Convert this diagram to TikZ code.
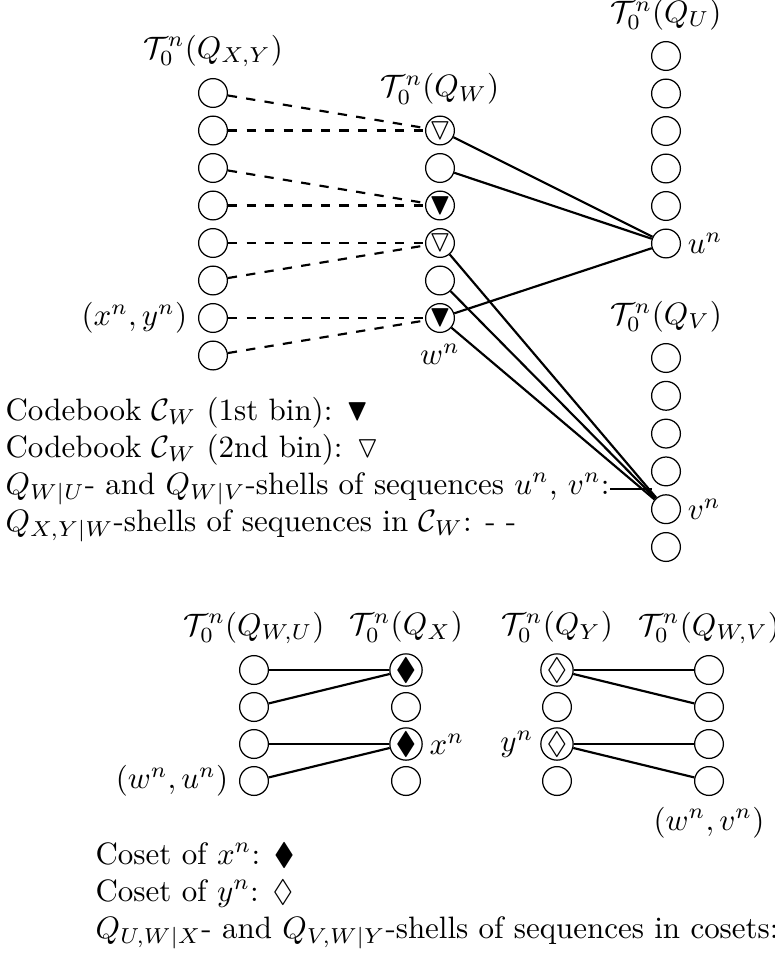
\documentclass[tikz,border=0pt]{standalone}
\usepackage{amsmath}
\usepackage{amssymb}
\usepackage{tikz}

\begin{document}
\begin{tikzpicture}[x=0.323pt, y=-0.323pt,
    bola/.style={draw, circle, thin, minimum size=9.3pt, inner sep=0pt},
    liga/.style={line width=0.7pt},
    ligad/.style={line width=0.7pt, dashed},
    legenda/.style={anchor=base west, inner sep=0pt}]
    \useasboundingbox (0,0) rectangle (774,954);
    % colunas de cima
    \foreach \i in {1,...,8}
      \node[bola] (xy\i) at (213,{93+37.5*(\i-1)}) {};
    \foreach \i/\s in {1/$\triangledown$, 2/, 3/$\blacktriangledown$, 4/$\triangledown$, 5/, 6/$\blacktriangledown$}
      \node[bola] (w\i) at (440,{130.5+37.5*(\i-1)}) {\s};
    \foreach \i in {1,...,6}
      \node[bola] (u\i) at (666,{56+37.5*(\i-1)}) {};
    \foreach \i in {1,...,6}
      \node[bola] (v\i) at (666,{358+37.8*(\i-1)}) {};
    % titulos e rotulos
    \node[above] (txy) at (xy1.north) {$\mathcal{T}_0^n(Q_{X,Y})$};
    \node[above] (tw) at (w1.north) {$\mathcal{T}_0^n(Q_W)$};
    \node[above] (tu) at (u1.north) {$\mathcal{T}_0^n(Q_U)$};
    \node[above] (tv) at (v1.north) {$\mathcal{T}_0^n(Q_V)$};
    \node[left] (lxy) at (xy7.west) {$(x^n,y^n)$};
    \node[below] (lw) at (w6.south) {$w^n$};
    \node[right, inner sep=2pt] (lu) at (u6.east) {$u^n$};
    \node[right, inner sep=2pt] (lv) at (v5.east) {$v^n$};
    % cascas tracejadas e cheias
    \foreach \a/\b in {1/1,2/1,3/3,4/3,5/4,6/4,7/6,8/6}
      \draw[ligad] (xy\a) -- (w\b);
    \foreach \b in {1,2,6}
      \draw[liga] (w\b) -- (u6);
    \foreach \b in {4,5,6}
      \draw[liga] (w\b) -- (v5);
    % legenda de cima
    \node[legenda] (leg1) at (5,420) {Codebook $\mathcal{C}_W$ (1st bin): $\blacktriangledown$};
    \node[legenda] (leg2) at (5,457) {Codebook $\mathcal{C}_W$ (2nd bin): $\triangledown$};
    \node[legenda] (leg3) at (5,494) {$Q_{W|U}$- and $Q_{W|V}$-shells of sequences $u^n$, $v^n$:~};
    \node[legenda] (leg4) at (5,531) {$Q_{X,Y|W}$-shells of sequences in $\mathcal{C}_W$: - -};
    \coordinate (fim3) at (652,489);
    \draw[thin] (leg3.east |- fim3) -- (fim3);
    % colunas de baixo
    \foreach \i in {1,...,4}
      \node[bola] (wu\i) at (254,{670+37*(\i-1)}) {};
    \foreach \i/\s in {1/$\blacklozenge$, 2/, 3/$\blacklozenge$, 4/}
      \node[bola] (x\i) at (406,{670+37*(\i-1)}) {\s};
    \foreach \i/\s in {1/$\lozenge$, 2/, 3/$\lozenge$, 4/}
      \node[bola] (y\i) at (557,{670+37*(\i-1)}) {\s};
    \foreach \i in {1,...,4}
      \node[bola] (wv\i) at (709,{670+37*(\i-1)}) {};
    \node[above] (twu) at (wu1.north) {$\mathcal{T}_0^n(Q_{W,U})$};
    \node[above] (tx) at (x1.north) {$\mathcal{T}_0^n(Q_X)$};
    \node[above] (ty) at (y1.north) {$\mathcal{T}_0^n(Q_Y)$};
    \node[above] (twv) at (wv1.north) {$\mathcal{T}_0^n(Q_{W,V})$};
    \node[left] (lwu) at (wu4.west) {$(w^n,u^n)$};
    \node[right, inner sep=2pt] (lx) at (x3.east) {$x^n$};
    \node[left, inner sep=2pt] (ly) at (y3.west) {$y^n$};
    \node[below] (lwv) at (wv4.south) {$(w^n,v^n)$};
    \draw[liga] (wu1) -- (x1);
    \draw[liga] (wu2) -- (x1);
    \draw[liga] (wu3) -- (x3);
    \draw[liga] (wu4) -- (x3);
    \draw[liga] (y1) -- (wv1);
    \draw[liga] (y1) -- (wv2);
    \draw[liga] (y3) -- (wv3);
    \draw[liga] (y3) -- (wv4);
    % legenda de baixo
    \node[legenda] (leg5) at (95,864) {Coset of $x^n$: $\blacklozenge$};
    \node[legenda] (leg6) at (95,901) {Coset of $y^n$: $\lozenge$};
    \node[legenda] (leg7) at (95,938) {$Q_{U,W|X}$- and $Q_{V,W|Y}$-shells of sequences in cosets:~};
    \coordinate (fim7) at (800,933);
    \draw[thin] (leg7.east |- fim7) -- (fim7);
\end{tikzpicture}
\end{document}
